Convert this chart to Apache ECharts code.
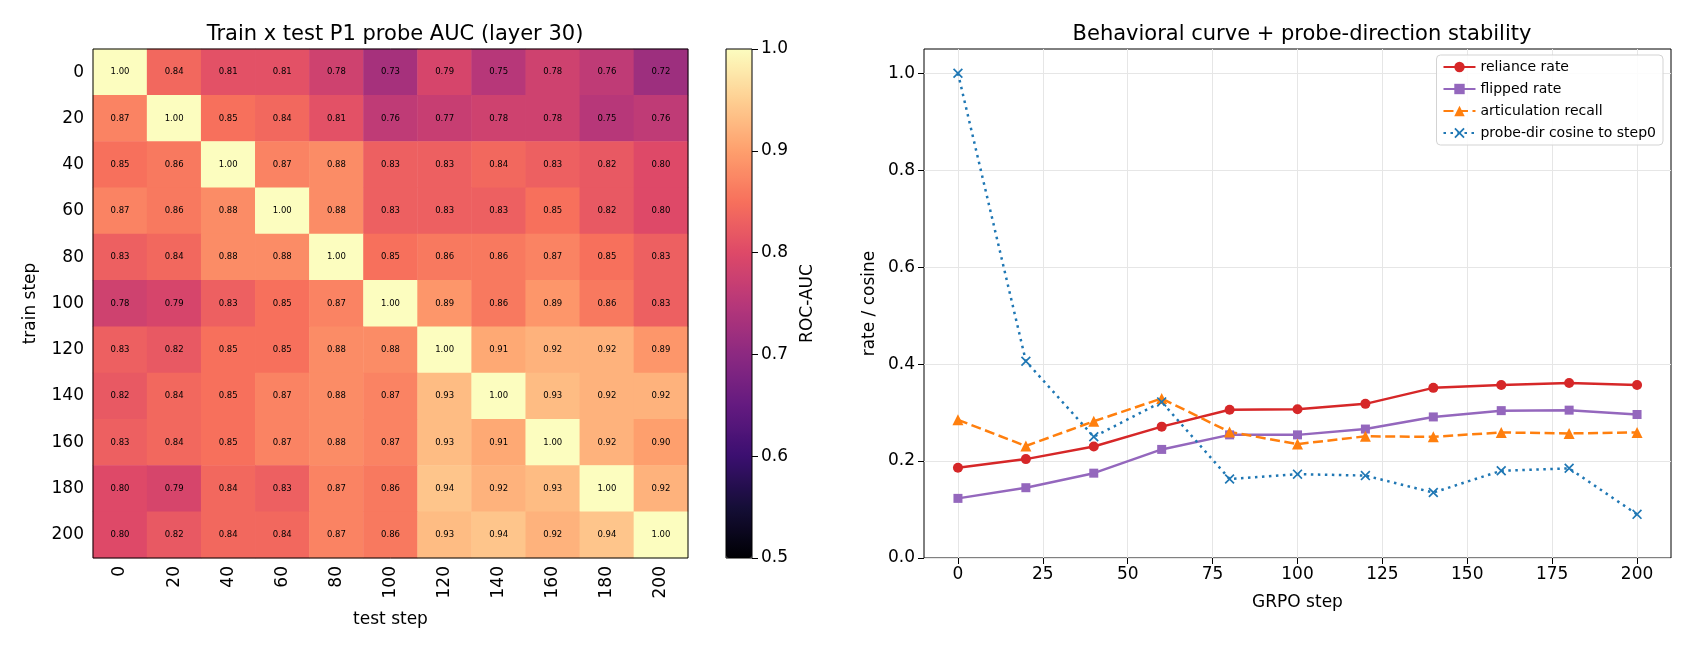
<!DOCTYPE html>
<html lang="en">
<head>
    <meta charset="UTF-8">
    <title>Probe AUC + behavioral curve</title>
    <style>
    html, body { margin: 0; padding: 0; background: #fff; }
    #main { width: 1690px; height: 650px; }
    </style>
</head>
<body>
    <div id="main"></div>
    <script src="https://cdn.jsdelivr.net/npm/echarts@6/dist/echarts.min.js"></script>
    <script>
    // steps used for both heatmap axes and the line chart
    var steps = [0, 20, 40, 60, 80, 100, 120, 140, 160, 180, 200];

    // train step (rows) x test step (cols)
    var aucRows = [
        [1.00, 0.84, 0.81, 0.81, 0.78, 0.73, 0.79, 0.75, 0.78, 0.76, 0.72],
        [0.87, 1.00, 0.85, 0.84, 0.81, 0.76, 0.77, 0.78, 0.78, 0.75, 0.76],
        [0.85, 0.86, 1.00, 0.87, 0.88, 0.83, 0.83, 0.84, 0.83, 0.82, 0.80],
        [0.87, 0.86, 0.88, 1.00, 0.88, 0.83, 0.83, 0.83, 0.85, 0.82, 0.80],
        [0.83, 0.84, 0.88, 0.88, 1.00, 0.85, 0.86, 0.86, 0.87, 0.85, 0.83],
        [0.78, 0.79, 0.83, 0.85, 0.87, 1.00, 0.89, 0.86, 0.89, 0.86, 0.83],
        [0.83, 0.82, 0.85, 0.85, 0.88, 0.88, 1.00, 0.91, 0.92, 0.92, 0.89],
        [0.82, 0.84, 0.85, 0.87, 0.88, 0.87, 0.93, 1.00, 0.93, 0.92, 0.92],
        [0.83, 0.84, 0.85, 0.87, 0.88, 0.87, 0.93, 0.91, 1.00, 0.92, 0.90],
        [0.80, 0.79, 0.84, 0.83, 0.87, 0.86, 0.94, 0.92, 0.93, 1.00, 0.92],
        [0.80, 0.82, 0.84, 0.84, 0.87, 0.86, 0.93, 0.94, 0.92, 0.94, 1.00]
    ];

    var reliance = [0.186, 0.204, 0.230, 0.271, 0.306, 0.307, 0.318, 0.351, 0.357, 0.361, 0.357];
    var flipped = [0.123, 0.145, 0.175, 0.224, 0.254, 0.254, 0.266, 0.291, 0.304, 0.305, 0.296];
    var articulation = [0.285, 0.231, 0.282, 0.329, 0.260, 0.235, 0.251, 0.250, 0.259, 0.257, 0.259];
    var cosine = [1.000, 0.406, 0.250, 0.322, 0.163, 0.173, 0.170, 0.135, 0.180, 0.185, 0.090];

    var xTicks = [0, 25, 50, 75, 100, 125, 150, 175, 200];
    var yTicks = [0, 0.2, 0.4, 0.6, 0.8, 1.0];

    var magma = ['#000004', '#150e37', '#3b0f70', '#641a80', '#8c2981', '#b73779',
                 '#de4968', '#f7705c', '#fe9f6d', '#fecf92', '#fcfdbf'];

    var FONT = 'DejaVu Sans';
    var heatData = [];
    for (var r = 0; r < aucRows.length; r++) {
        for (var c = 0; c < aucRows[r].length; c++) {
            heatData.push([c, r, aucRows[r][c]]);
        }
    }
    function pair(vals) {
        return steps.map(function (s, i) { return [s, vals[i]]; });
    }

    var xMark = 'path://M0,1.2L1.2,0L5,3.8L8.8,0L10,1.2L6.2,5L10,8.8L8.8,10L5,6.2L1.2,10L0,8.8L3.8,5Z';
    var tickLbl = { color: '#000', fontFamily: FONT, fontSize: 17 };
    var nameStyle = { fontFamily: FONT, fontSize: 17, color: '#000' };

    var chart = echarts.init(document.getElementById('main'));
    chart.setOption({
        animation: false,
        backgroundColor: '#fff',
        textStyle: { fontFamily: FONT },
        title: [
            { text: 'Train x test P1 probe AUC (layer 30)', left: 390, top: 19, textAlign: 'center',
              textStyle: { fontFamily: FONT, fontSize: 21, fontWeight: 'normal', color: '#000' } },
            { text: 'Behavioral curve + probe-direction stability', left: 1297, top: 19, textAlign: 'center',
              textStyle: { fontFamily: FONT, fontSize: 21, fontWeight: 'normal', color: '#000' } }
        ],
        grid: [
            { left: 93, top: 49, width: 595, height: 509, show: true, borderColor: '#000', borderWidth: 1, z: 5,
              backgroundColor: 'transparent' },
            { left: 924, top: 49, width: 747, height: 509, show: true, borderColor: '#000', borderWidth: 1,
              backgroundColor: 'transparent' },
            { left: 726, top: 49, width: 26, height: 509, show: true, borderColor: '#000', borderWidth: 1, z: 6,
              backgroundColor: 'transparent' }
        ],
        visualMap: {
            type: 'continuous', min: 0.5, max: 1.0, seriesIndex: 0, calculable: false,
            orient: 'vertical', left: 726, top: 49, itemWidth: 26, itemHeight: 509, padding: 0,
            inRange: { color: magma }, text: null, hoverLink: false
        },
        xAxis: [
            { gridIndex: 0, type: 'category', data: steps.map(String), position: 'bottom',
              axisLine: { show: false, onZero: false }, splitLine: { show: false },
              axisTick: { alignWithLabel: true, length: 6, lineStyle: { color: '#000' } },
              axisLabel: Object.assign({ rotate: 90, margin: 8, interval: 0 }, tickLbl),
              name: 'test step', nameLocation: 'middle', nameGap: 53, nameTextStyle: nameStyle },
            { gridIndex: 1, type: 'value', min: -10, max: 210, position: 'bottom',
              axisLine: { show: false, onZero: false },
              axisTick: { customValues: xTicks, length: 6, lineStyle: { color: '#000' } },
              axisLabel: Object.assign({ customValues: xTicks, margin: 8 }, tickLbl),
              splitLine: { show: true, lineStyle: { color: '#e6e6e6', width: 1 } },
              name: 'GRPO step', nameLocation: 'middle', nameGap: 36, nameTextStyle: nameStyle },
            { gridIndex: 2, type: 'value', show: false }
        ],
        yAxis: [
            { gridIndex: 0, type: 'category', data: steps.map(String), inverse: true,
              axisLine: { show: false, onZero: false }, splitLine: { show: false },
              axisTick: { alignWithLabel: true, length: 6, lineStyle: { color: '#000' } },
              axisLabel: Object.assign({ margin: 9, interval: 0 }, tickLbl),
              name: 'train step', nameLocation: 'middle', nameGap: 54, nameRotate: 90, nameTextStyle: nameStyle },
            { gridIndex: 1, type: 'value', min: 0, max: 1.05, position: 'left',
              axisLine: { show: false, onZero: false },
              axisTick: { customValues: yTicks, length: 6, lineStyle: { color: '#000' } },
              axisLabel: Object.assign({ customValues: yTicks, margin: 9,
                  formatter: function (v) { return v.toFixed(1); } }, tickLbl),
              splitLine: { show: true, lineStyle: { color: '#e6e6e6', width: 1 } },
              name: 'rate / cosine', nameLocation: 'middle', nameGap: 46, nameRotate: 90, nameTextStyle: nameStyle },
            { gridIndex: 2, type: 'value', min: 0.5, max: 1.0, interval: 0.1, position: 'right',
              axisLine: { show: false, onZero: false }, splitLine: { show: false },
              axisTick: { show: true, length: 6, lineStyle: { color: '#000' } },
              axisLabel: Object.assign({ margin: 9,
                  formatter: function (v) { return v.toFixed(1); } }, tickLbl),
              name: 'ROC-AUC', nameLocation: 'middle', nameGap: 47, nameRotate: 90, nameTextStyle: nameStyle }
        ],
        legend: {
            orient: 'vertical', right: 27, top: 55, itemWidth: 32, itemHeight: 13, itemGap: 8,
            padding: [5, 7, 5, 6], borderColor: '#d3d3d3', borderWidth: 1, borderRadius: 4,
            backgroundColor: 'rgba(255,255,255,0.85)',
            textStyle: { fontFamily: FONT, fontSize: 14, color: '#000' },
            data: ['reliance rate', 'flipped rate', 'articulation recall', 'probe-dir cosine to step0']
        },
        series: [
            { type: 'heatmap', xAxisIndex: 0, yAxisIndex: 0, data: heatData,
              label: { show: true, fontFamily: FONT, fontSize: 8.5, color: '#000',
                       formatter: function (p) { return p.value[2].toFixed(2); } },
              itemStyle: { borderWidth: 0 }, emphasis: { disabled: true } },
            { name: 'reliance rate', type: 'line', xAxisIndex: 1, yAxisIndex: 1, data: pair(reliance),
              symbol: 'circle', symbolSize: 10, color: '#d62728',
              lineStyle: { width: 2.5, color: '#d62728' }, itemStyle: { color: '#d62728' } },
            { name: 'flipped rate', type: 'line', xAxisIndex: 1, yAxisIndex: 1, data: pair(flipped),
              symbol: 'rect', symbolSize: 9, color: '#9467bd',
              lineStyle: { width: 2.5, color: '#9467bd' }, itemStyle: { color: '#9467bd' } },
            { name: 'articulation recall', type: 'line', xAxisIndex: 1, yAxisIndex: 1, data: pair(articulation),
              symbol: 'triangle', symbolSize: 11, color: '#ff7f0e',
              lineStyle: { width: 2.5, color: '#ff7f0e', type: [10, 4.5] }, itemStyle: { color: '#ff7f0e' } },
            { name: 'probe-dir cosine to step0', type: 'line', xAxisIndex: 1, yAxisIndex: 1, data: pair(cosine),
              symbol: xMark, symbolSize: 10, color: '#1f77b4',
              lineStyle: { width: 2.5, color: '#1f77b4', type: [2.5, 4.5] }, itemStyle: { color: '#1f77b4' } }
        ]
    });
    </script>
</body>
</html>
